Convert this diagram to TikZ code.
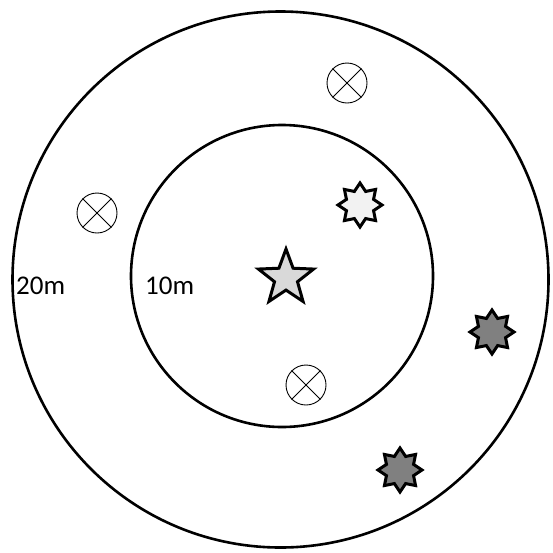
\documentclass[tikz,border=0pt]{standalone}
\usepackage{fontspec}
\setmainfont{Carlito}
\usetikzlibrary{shapes.geometric}

\tikzset{
  ring/.style={line width=2.6pt},
  target/.style={draw,circle,line width=0.9pt,minimum size=40pt,inner sep=0pt},
  sensor/.style={draw,star,star points=8,star point ratio=1.5,line width=3pt,minimum size=44pt,inner sep=0pt},
  dist/.style={font=\fontsize{27}{30}\selectfont,inner sep=0pt,anchor=west}
}

\begin{document}
\begin{tikzpicture}[x=1pt,y=-1pt]
\useasboundingbox (0,0) rectangle (553,552);
% range rings
\draw[ring] (280.5,279.5) circle (268);
\draw[ring] (282,276) circle (151);
\node[dist] (r20) at (16,286) {20m};
\node[dist] (r10) at (145,286) {10m};
% source
\node[draw,star,star points=5,star point ratio=2.4,line width=3pt,fill=black!15,minimum size=58pt,inner sep=0pt] (src) at (286,278) {};
% sensors
\node[sensor,fill=black!5] (s1) at (360,205) {};
\node[sensor,fill=black!50] (s2) at (492,332) {};
\node[sensor,fill=black!50] (s3) at (400,470) {};
% targets
\foreach \name/\pos in {t1/{(347,83)},t2/{(97,213)},t3/{(306,385)}}{
  \node[target] (\name) at \pos {};
  \draw[line width=0.9pt] (\name.north east) -- (\name.south west);
  \draw[line width=0.9pt] (\name.north west) -- (\name.south east);
}
\end{tikzpicture}
\end{document}
